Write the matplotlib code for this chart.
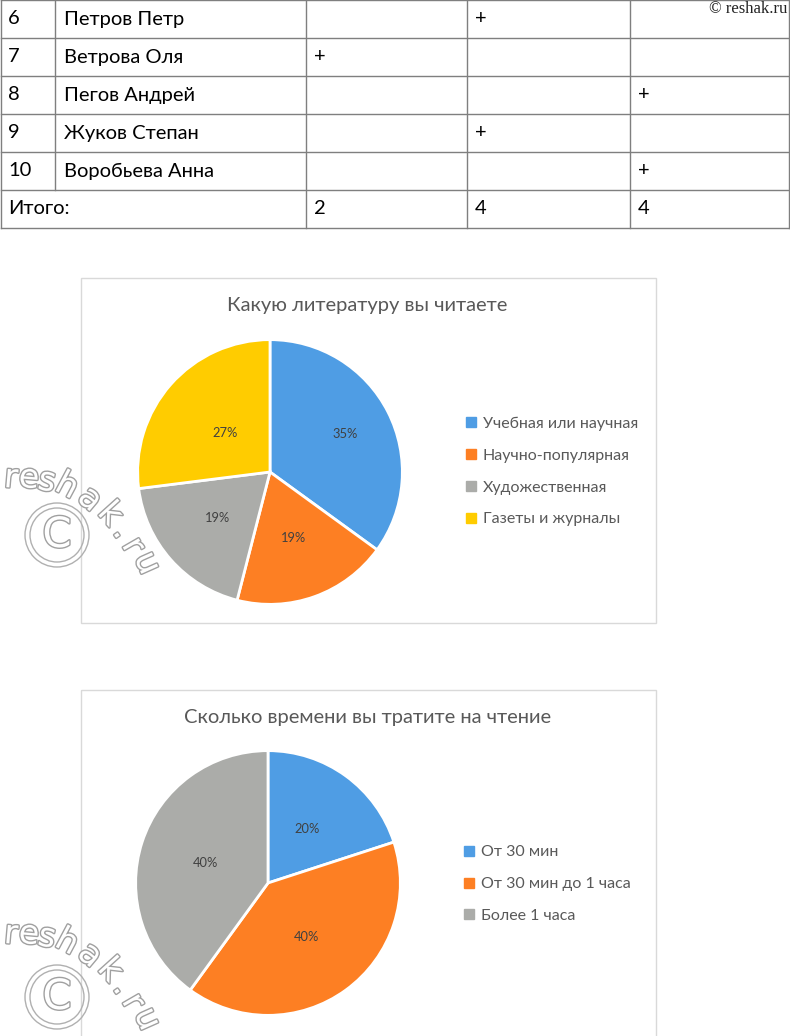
import matplotlib
matplotlib.use('Agg')
import matplotlib.pyplot as plt
from matplotlib.patches import Rectangle, Circle
from matplotlib.lines import Line2D
import matplotlib.patheffects as pe
import numpy as np

W, H = 790, 1036
plt.rcParams['font.family'] = ['Lato', 'DejaVu Sans']

# таблица
nums = ['6', '7', '8', '9', '10']
names = ['Петров Петр', 'Ветрова Оля', 'Пегов Андрей', 'Жуков Степан', 'Воробьева Анна']
plus_col = [1, 0, 2, 1, 2]
totals = ['2', '4', '4']

# диаграммы
lit_labels = ['Учебная или научная', 'Научно-популярная', 'Художественная', 'Газеты и журналы']
lit_values = [35, 19, 19, 27]
time_labels = ['От 30 мин', 'От 30 мин до 1 часа', 'Более 1 часа']
time_values = [20, 40, 40]

colors = ['#4F9DE4', '#FD7F23', '#ABACA9', '#FFCC00']

fig = plt.figure(figsize=(W / 100, H / 100), dpi=100)
bg = fig.add_axes([0, 0, 1, 1])
bg.set_xlim(0, W)
bg.set_ylim(H, 0)
bg.axis('off')

# --- таблица ---
row_h = 38
col_x = [1, 55, 306, 467, 630, 789]
line_c = '#7f7f7f'
n_rows = len(names) + 1
for i in range(n_rows + 1):
    bg.plot([col_x[0], col_x[-1]], [i * row_h, i * row_h], color=line_c, lw=1)
for j, x in enumerate(col_x):
    y_end = n_rows * row_h if j != 1 else len(names) * row_h
    bg.plot([x, x], [0, y_end], color=line_c, lw=1)

tfont = dict(fontsize=14.5, color='black', va='center')
for i, (n, name, pc) in enumerate(zip(nums, names, plus_col)):
    yc = i * row_h + row_h / 2
    bg.text(8, yc, n, **tfont)
    bg.text(64, yc, name, **tfont)
    bg.text(col_x[2 + pc] + 8, yc, '+', **tfont)
yc = len(names) * row_h + row_h / 2
bg.text(8, yc, 'Итого:', **tfont)
for k, t in enumerate(totals):
    bg.text(col_x[2 + k] + 8, yc, t, **tfont)

bg.text(787, 9, '© reshak.ru', fontsize=12, family='Liberation Serif',
        ha='right', va='center', color='#222222')


def pie_chart(frame, title, title_y, cx, cy, r, values, labels, dists, leg_x, leg_y):
    x0, y0, x1, y1 = frame
    bg.add_patch(Rectangle((x0, y0), x1 - x0, y1 - y0, fill=False, ec='#d9d9d9', lw=1))
    bg.text((x0 + x1) / 2 - 1, title_y, title, fontsize=14.5, color='#595959',
            ha='center', va='center')
    ax = fig.add_axes([(cx - r) / W, (H - cy - r) / H, 2 * r / W, 2 * r / H])
    wedges, _ = ax.pie(values, colors=colors[:len(values)], startangle=90, counterclock=False,
                       wedgeprops=dict(edgecolor='white', linewidth=2))
    ax.set_xlim(-1.02, 1.02)
    ax.set_ylim(-1.02, 1.02)
    total = sum(values)
    for w, v, d in zip(wedges, values, dists):
        ang = np.deg2rad((w.theta1 + w.theta2) / 2)
        ax.text(d * np.cos(ang), d * np.sin(ang), f'{round(100 * v / total)}%',
                ha='center', va='center', fontsize=9.3, color='#404040')
    handles = [Line2D([], [], marker='s', ls='', color=c, markersize=6.5)
               for c in colors[:len(values)]]
    ax.legend(handles, labels, loc='center left', bbox_to_anchor=(leg_x / W, 1 - leg_y / H),
              bbox_transform=fig.transFigure, frameon=False, fontsize=11.5,
              labelcolor='#595959', handlelength=0.6, handletextpad=0.45,
              labelspacing=1.1, borderpad=0, borderaxespad=0)


pie_chart((81, 278, 656, 623), 'Какую литературу вы читаете', 305,
          270, 472, 135, lit_values, lit_labels, [0.64, 0.53, 0.53, 0.45], 466, 471.5)
pie_chart((81, 690, 656, 1040), 'Сколько времени вы тратите на чтение', 717,
          268, 883, 135, time_values, time_labels, [0.5, 0.5, 0.5], 464, 884)

# --- водяные знаки ---
top = fig.add_axes([0, 0, 1, 1], zorder=10)
top.set_xlim(0, W)
top.set_ylim(H, 0)
top.axis('off')
top.patch.set_alpha(0)

wm_text = 'reshak.ru'
wm_pos = [(11, 478), (29, 478), (47, 481), (67, 486), (90, 499), (110, 514),
          (123, 531), (133, 546), (147, 563)]
wm_rot = [-5, -5, -12, -28, -40, -48, -55, -60, -66]
outline = [pe.Stroke(linewidth=2, foreground='#a0a0a0'), pe.Normal()]
for dy, cdy in ((0, 0), (456, 462)):
    for ch, (x, y), rot in zip(wm_text, wm_pos, wm_rot):
        top.text(x, y + dy, ch, fontsize=24, color='white', ha='center', va='center',
                 rotation=rot, family='DejaVu Sans', path_effects=outline)
    for rr in (32, 27):
        top.add_patch(Circle((57, 535 + cdy), rr, fill=False, ec='#b0b0b0', lw=1))
    top.text(57, 535 + cdy, 'C', fontsize=30, color='white', ha='center', va='center',
             family='DejaVu Sans', path_effects=outline)

fig.savefig('out.png', dpi=100)
